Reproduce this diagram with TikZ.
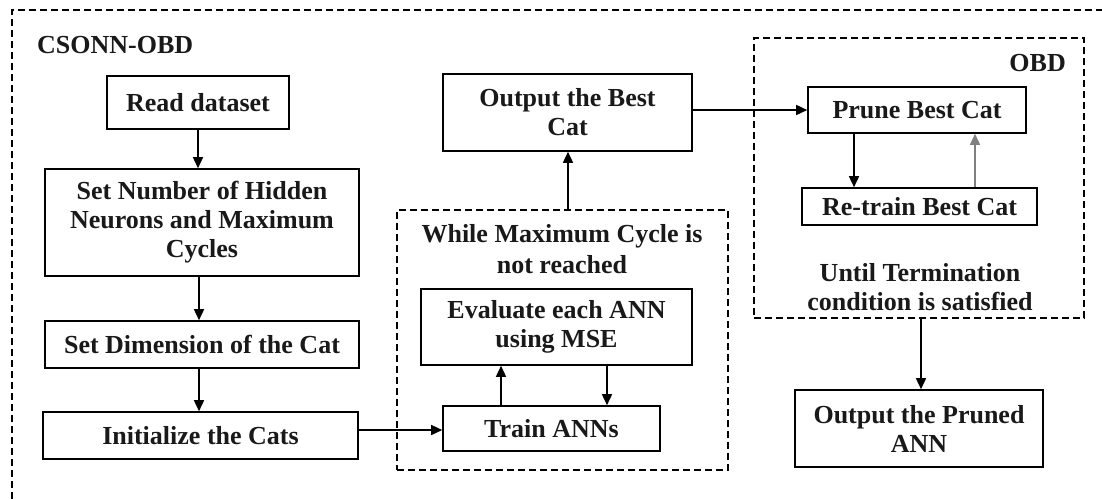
\documentclass[tikz,border=0pt]{standalone}
\usepackage{fontspec}
\setmainfont{Liberation Serif}
\usetikzlibrary{arrows.meta,calc}
\begin{document}
\begin{tikzpicture}[x=1pt,y=-1pt,
  every node/.style={font=\fontsize{26}{29}\selectfont\bfseries, align=center, inner sep=0pt, text=black!90},
  box/.style={draw, line width=1.6pt, rectangle},
  dbox/.style={draw, line width=1.4pt, dash pattern=on 7pt off 4pt, rectangle},
  arr/.style={line width=1.5pt, -{Triangle[length=11pt,width=10pt]}},
  lbl/.style={}]
\useasboundingbox (0,0) rectangle (1102,499);
\fill[white] (0,0) rectangle (1102,499);
% outer frame (extends beyond the picture)
\draw[line width=1.4pt, dash pattern=on 7pt off 4pt] (12,499) -- (12,10) -- (1102,10);
\node[anchor=west] (title) at (37,45) {CSONN-OBD};
% left column
\node[box, minimum width=182pt, minimum height=53pt] (read) at (198,102.5) {Read dataset};
\node[box, minimum width=314pt, minimum height=107pt] (setnum) at (202,222.5) {Set Number of Hidden\\Neurons and Maximum\\Cycles};
\node[box, minimum width=314pt, minimum height=47pt] (setdim) at (202,344.5) {Set Dimension of the Cat};
\node[box, minimum width=315pt, minimum height=47pt] (init) at (200.5,435.5) {Initialize the Cats};
% middle
\node[box, minimum width=249pt, minimum height=77pt] (best) at (567.5,112.5) {Output the Best\\Cat};
\node[dbox, minimum width=331pt, minimum height=260pt] (loop) at (562.5,340) {};
\node[lbl] (looplbl) at (562,249) {While Maximum Cycle is\\[2pt]not reached};
\node[box, minimum width=271pt, minimum height=76pt] (eval) at (556.5,327) {Evaluate each ANN\\using MSE};
\node[box, minimum width=217pt, minimum height=45pt] (train) at (551.5,428.5) {Train ANNs};
% right
\node[dbox, minimum width=330pt, minimum height=280pt] (obd) at (919,178) {};
\node[anchor=east] (obdlbl) at (1066,63) {OBD};
\node[box, minimum width=218pt, minimum height=46pt] (prune) at (917,110) {Prune Best Cat};
\node[box, minimum width=235pt, minimum height=37pt] (retrain) at (919.5,206.5) {Re-train Best Cat};
\node[lbl] (untillbl) at (920,287.5) {Until Termination\\condition is satisfied};
\node[box, minimum width=248pt, minimum height=77pt] (pruned) at (919,428.5) {Output the Pruned\\ANN};
% connectors
\draw[arr] (read.south) -- (read.south |- setnum.north);
\draw[arr] ([xshift=-3pt]setnum.south) -- ([xshift=-3pt]setdim.north);
\draw[arr] ([xshift=-3pt]setdim.south) -- ([xshift=-3pt]setdim.south |- init.north);
\draw[arr] (init.east |- 0,430) -- (train.west |- 0,430);
\draw[arr] ([xshift=5.5pt]loop.north) -- ([xshift=5.5pt]loop.north |- best.south);
\draw[arr] (607,0 |- eval.south) -- (607,0 |- train.north);
\draw[arr] (501,0 |- train.north) -- (501,0 |- eval.south);
\draw[arr] (best.east |- 0,110) -- (prune.west |- 0,110);
\draw[arr] (854,0 |- prune.south) -- (854,0 |- retrain.north);
\draw[arr, draw=gray, fill=black] (975,0 |- retrain.north) -- (975,0 |- prune.south);
\draw[arr] (921,0 |- obd.south) -- (921,0 |- pruned.north);
\end{tikzpicture}
\end{document}
